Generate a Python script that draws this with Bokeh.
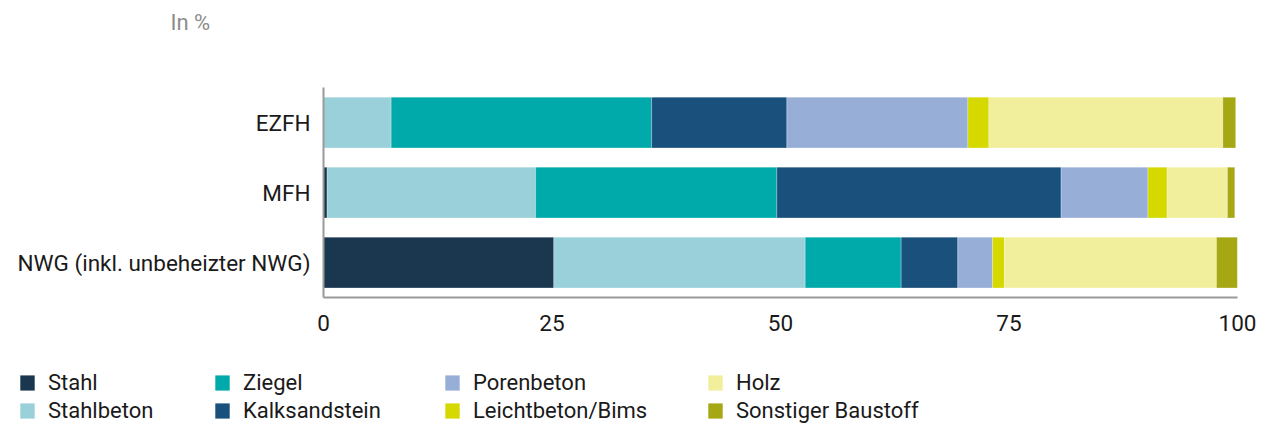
from bokeh.plotting import figure
from bokeh.layouts import column
from bokeh.models import (Range1d, FactorRange, FixedTicker, Legend, LegendItem,
                          Label, ColumnDataSource)
from bokeh.embed import file_html
from bokeh.resources import INLINE

# ---- data ----
categories = ["EZFH", "MFH", "NWG (inkl. unbeheizter NWG)"]
materials = ["Stahl", "Stahlbeton", "Ziegel", "Kalksandstein",
             "Porenbeton", "Leichtbeton/Bims", "Holz", "Sonstiger Baustoff"]
stahl = [0.0, 0.4, 25.2]
stahlbeton = [7.4, 22.8, 27.5]
ziegel = [28.5, 26.4, 10.5]
kalksandstein = [14.8, 31.1, 6.2]
porenbeton = [19.8, 9.5, 3.8]
leichtbeton = [2.3, 2.1, 1.3]
holz = [25.6, 6.6, 23.2]
sonstiger = [1.4, 0.8, 2.3]
x_ticks = [0, 25, 50, 75, 100]
unit_label = "In %"

colors = ["#1b3750", "#99d0d9", "#00aaaa", "#19507c",
          "#97aed7", "#d5d900", "#f1ef9b", "#a5a713"]

series = [stahl, stahlbeton, ziegel, kalksandstein, porenbeton,
          leichtbeton, holz, sonstiger]
keys = ["s%d" % i for i in range(len(materials))]
data = {"cat": categories}
for k, vals in zip(keys, series):
    data[k] = vals
source = ColumnDataSource(data)

FONT = "Roboto"
TXT = "#1a1a1a"
W = 1261

# ---- top strip with unit label ----
top = figure(width=W, height=45, x_range=Range1d(0, W), y_range=Range1d(0, 45),
             x_axis_location=None, y_axis_location=None,
             output_backend="svg", toolbar_location=None,
             min_border=0, outline_line_color=None)
top.frame_align = False
top.grid.grid_line_color = None
top.add_layout(Label(x=170, y=23, x_units="screen", y_units="screen",
                     text=unit_label, text_font=FONT, text_font_size="22px",
                     text_color="#8c8c8c", text_baseline="middle",
                     text_align="left"))

# ---- main chart ----
p = figure(width=W, height=300,
           x_range=Range1d(0, 100),
           y_range=FactorRange(factors=list(reversed(categories))),
           output_backend="svg", toolbar_location=None,
           min_border_left=323, min_border_right=24,
           min_border_top=42, min_border_bottom=48)
p.frame_align = False

renderers = p.hbar_stack(keys, y="cat", height=0.725, source=source,
                         fill_color=colors, line_color="white",
                         line_width=0.5, line_alpha=0.5)

p.grid.grid_line_color = None
p.outline_line_color = None

for ax in (p.xaxis[0], p.yaxis[0]):
    ax.axis_line_color = "#9a9a9a"
    ax.axis_line_width = 2
    ax.major_tick_in = 0
    ax.major_tick_out = 0
    ax.minor_tick_in = 0
    ax.minor_tick_out = 0
    ax.major_label_text_font = FONT
    ax.major_label_text_font_size = "22.5px"
    ax.major_label_text_color = TXT

p.xaxis.ticker = FixedTicker(ticks=x_ticks)
p.xaxis.major_label_standoff = 17
p.yaxis.major_label_standoff = 13

# ---- legend strip (swatch renderers lie outside its visible range) ----
leg = figure(width=W, height=78, x_range=Range1d(-2, -1),
             y_range=FactorRange(factors=list(reversed(categories))),
             x_axis_location=None, y_axis_location=None,
             output_backend="svg", toolbar_location=None,
             min_border=0, outline_line_color=None)
leg.frame_align = False
leg.grid.grid_line_color = None
swatches = leg.hbar_stack(keys, y="cat", height=0.725, source=source,
                          fill_color=colors, line_color=None)

col_x = [18, 213, 443, 706]
for c in range(4):
    items = [LegendItem(label=materials[i], renderers=[swatches[i]])
             for i in (2 * c, 2 * c + 1)]
    lg = Legend(items=items, location=(col_x[c], 0),
                orientation="vertical",
                glyph_width=18, glyph_height=19, label_height=19,
                spacing=3, padding=0, margin=0, label_standoff=12,
                border_line_color=None, background_fill_alpha=0,
                label_text_font=FONT, label_text_font_size="22px",
                label_text_color=TXT, label_text_baseline="middle")
    leg.add_layout(lg)

layout = column(top, p, leg, spacing=0)
open("out.html", "w").write(file_html(layout, INLINE))
